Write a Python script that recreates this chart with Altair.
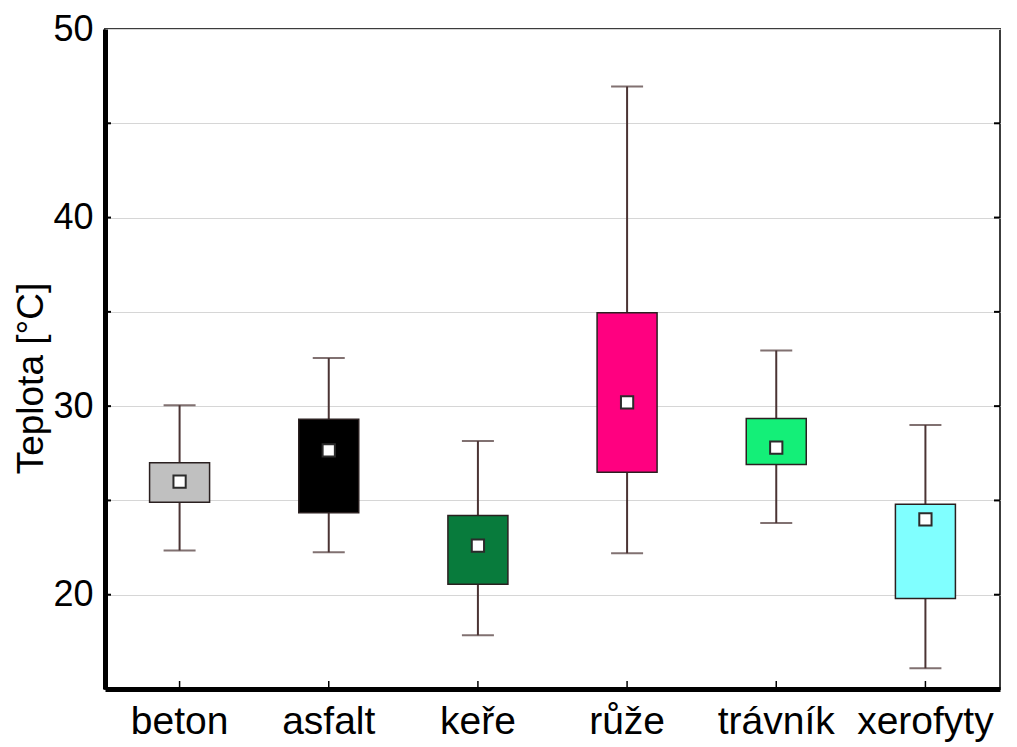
import altair as alt
import pandas as pd

categories = ["beton", "asfalt", "keře", "růže", "trávník", "xerofyty"]
whisker_low = [22.35, 22.25, 17.85, 22.2, 23.8, 16.1]
box_low = [24.9, 24.35, 20.55, 26.5, 26.9, 19.8]
center = [26.0, 27.65, 22.6, 30.2, 27.8, 24.0]
box_high = [27.0, 29.3, 24.2, 34.95, 29.35, 24.8]
whisker_high = [30.05, 32.55, 28.15, 46.95, 32.95, 29.0]
box_colors = ["#c0c0c0", "#000000", "#087b3c", "#ff0080", "#14ef78", "#80ffff"]
y_ticks = [20, 25, 30, 35, 40, 45, 50]

df = pd.DataFrame({
    "cat": categories,
    "wlo": whisker_low,
    "blo": box_low,
    "mid": center,
    "bhi": box_high,
    "whi": whisker_high,
})
ticks_df = pd.DataFrame({"v": y_ticks[:-1]})

W, H = 895, 660
DARK = "#4b3434"

x_enc = alt.X(
    "cat:N",
    sort=categories,
    scale=alt.Scale(type="band", paddingInner=0, paddingOuter=0),
    axis=alt.Axis(
        title=None, labelAngle=0, labelFontSize=39, labelColor="#000000",
        labelFont="Liberation Sans", labelPadding=13, ticks=False, tickSize=0,
        domainColor="#000000", domainWidth=5,
    ),
)
y_scale = alt.Scale(domain=[15, 50], nice=False, zero=False)
y_axis = alt.Axis(
    title="Teplota [°C]", titleFontSize=37, titleFont="Liberation Sans",
    titleFontWeight="normal", titleColor="#000000", titleX=-55, titleY=349,
    values=y_ticks, labelExpr="datum.value % 10 == 0 ? datum.label : ''",
    labelFontSize=36, labelFont="Liberation Sans", labelColor="#000000",
    labelPadding=12, ticks=False, tickSize=0, domainColor="#000000",
    domainWidth=5, grid=True, gridColor="#d6d6d6", gridWidth=1,
)

base = alt.Chart(df)

whisk = base.mark_rule(color=DARK, strokeWidth=2).encode(
    x=x_enc, y=alt.Y("wlo:Q", scale=y_scale, axis=y_axis), y2="whi:Q"
)
cap_lo = base.mark_tick(color=DARK, thickness=2, size=32).encode(x=x_enc, y=alt.Y("wlo:Q", scale=y_scale))
cap_hi = base.mark_tick(color=DARK, thickness=2, size=32).encode(x=x_enc, y=alt.Y("whi:Q", scale=y_scale))
boxes = base.mark_bar(size=60, stroke="#2a2020", strokeWidth=1.5).encode(
    x=x_enc,
    y=alt.Y("blo:Q", scale=y_scale),
    y2="bhi:Q",
    color=alt.Color("cat:N", sort=categories,
                    scale=alt.Scale(domain=categories, range=box_colors), legend=None),
)
marks = base.mark_square(size=150, fill="#ffffff", stroke="#2b2b2b", strokeWidth=2, opacity=1).encode(
    x=x_enc, y=alt.Y("mid:Q", scale=y_scale)
)
xticks = base.mark_rule(color="#000000", strokeWidth=1.5).encode(
    x=x_enc, y=alt.value(H), y2=alt.value(H - 8)
)
rticks = alt.Chart(ticks_df).mark_rule(color="#000000", strokeWidth=2).encode(
    y=alt.Y("v:Q", scale=y_scale), x=alt.value(W), x2=alt.value(W - 6)
)
lticks = alt.Chart(ticks_df).mark_rule(color="#000000", strokeWidth=2).encode(
    y=alt.Y("v:Q", scale=y_scale), x=alt.value(0), x2=alt.value(6)
)

chart = alt.layer(whisk, cap_lo, cap_hi, boxes, marks, xticks, rticks, lticks).properties(
    width=W, height=H,
    autosize=alt.AutoSizeParams(type="none"),
    padding={"left": 97, "top": 21, "right": 9, "bottom": 58},
    background="#ffffff",
).configure_view(stroke="#3c3c3c", strokeWidth=2)

chart.save("out.html", embed_options={"renderer": "svg", "actions": False})
